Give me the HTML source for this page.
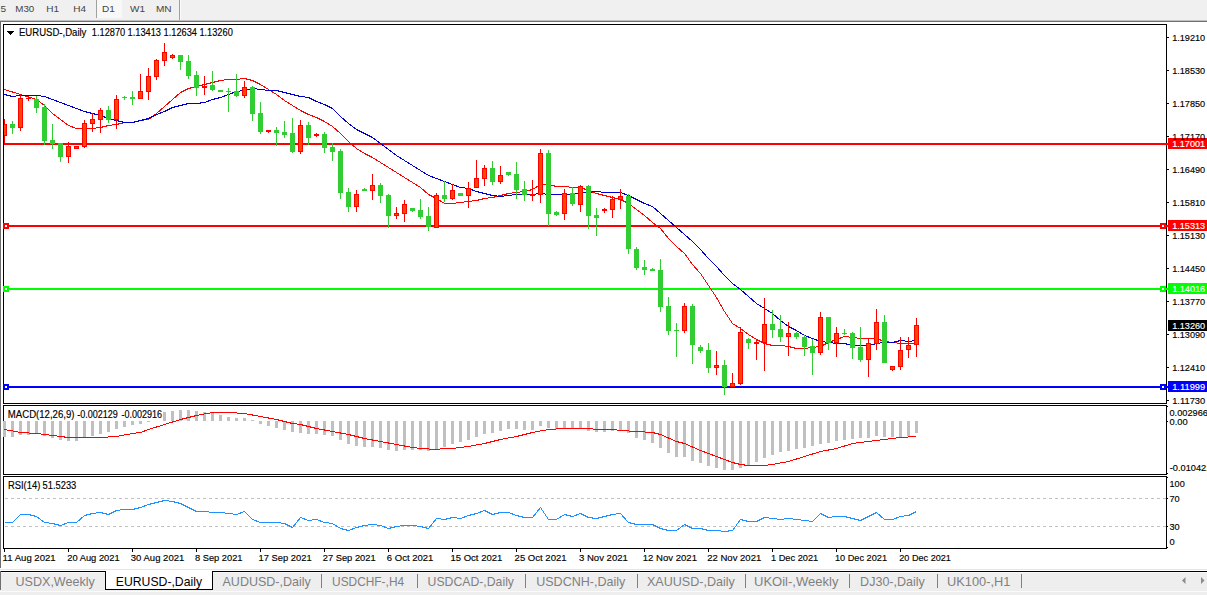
<!DOCTYPE html>
<html lang="en"><head><meta charset="utf-8"><title>EURUSD-,Daily</title>
<style>
html,body{margin:0;padding:0;background:#fff;}
body{width:1207px;height:595px;overflow:hidden;position:relative;font-family:"Liberation Sans",sans-serif;}
svg{position:absolute;left:0;top:0;display:block;}
text{font-family:"Liberation Sans",sans-serif;}
.ax{font-size:9.7px;fill:#000;stroke:#000;stroke-width:0.15px;}
.axw{font-size:9.7px;fill:#fff;stroke:#fff;stroke-width:0.15px;}
.tb{font-size:9.6px;fill:#444;}
.tab{font-size:12.7px;fill:#808080;}
.taba{font-size:12.7px;fill:#000;}
.ttl{font-size:10px;fill:#000;stroke:#000;stroke-width:0.15px;}
.dt{font-size:9.8px;fill:#000;stroke:#000;stroke-width:0.15px;}
</style></head><body>
<svg width="1207" height="595" viewBox="0 0 1207 595">
<g shape-rendering="crispEdges">
<rect x="0" y="0" width="1207" height="20" fill="#f0f0f0"/>
<rect x="0" y="20" width="1207" height="1" fill="#c0c0c0"/>
<rect x="0" y="21" width="1207" height="1" fill="#707070"/>
<rect x="97" y="0" width="25" height="18" fill="#f8f8f8"/>
<rect x="96" y="0" width="1" height="18" fill="#a0a0a0"/>
<rect x="179" y="0" width="1" height="20" fill="#a0a0a0"/>
<rect x="180" y="0" width="1" height="20" fill="#fafafa"/>
<rect x="0" y="22" width="1" height="546" fill="#6e6e6e"/>
<rect x="0" y="569" width="1207" height="1" fill="#e6e6e6"/>
<rect x="0" y="571" width="1207" height="1" fill="#000"/>
<rect x="0" y="572" width="1207" height="1" fill="#f8f8f8"/>
<rect x="0" y="573" width="1207" height="18" fill="#eeeeee"/>
<rect x="0" y="591" width="1207" height="1" fill="#fafafa"/>
<rect x="0" y="592" width="1207" height="3" fill="#eeeeee"/>
<rect x="105" y="571" width="108" height="19" fill="#000"/>
<rect x="106" y="570" width="106" height="19" fill="#fff"/>
<rect x="0" y="571" width="1" height="19" fill="#6e6e6e"/>
<rect x="321" y="574" width="1" height="14" fill="#808080"/>
<rect x="417" y="574" width="1" height="14" fill="#808080"/>
<rect x="525" y="574" width="1" height="14" fill="#808080"/>
<rect x="637" y="574" width="1" height="14" fill="#808080"/>
<rect x="745" y="574" width="1" height="14" fill="#808080"/>
<rect x="849" y="574" width="1" height="14" fill="#808080"/>
<rect x="937" y="574" width="1" height="14" fill="#808080"/>
<rect x="1021" y="574" width="1" height="14" fill="#808080"/>
<rect x="3" y="24" width="1164" height="1" fill="#000"/>
<rect x="3" y="403" width="1164" height="1" fill="#000"/>
<rect x="3" y="24" width="1" height="380" fill="#000"/>
<rect x="1166" y="24" width="1" height="380" fill="#000"/>
<rect x="3" y="405" width="1164" height="1" fill="#000"/>
<rect x="3" y="474" width="1164" height="1" fill="#000"/>
<rect x="3" y="405" width="1" height="70" fill="#000"/>
<rect x="1166" y="405" width="1" height="70" fill="#000"/>
<rect x="3" y="476" width="1164" height="1" fill="#000"/>
<rect x="3" y="548" width="1164" height="1" fill="#000"/>
<rect x="3" y="476" width="1" height="73" fill="#000"/>
<rect x="1166" y="476" width="1" height="73" fill="#000"/>
<rect x="1167" y="37" width="2" height="1" fill="#000"/>
<rect x="1167" y="70" width="2" height="1" fill="#000"/>
<rect x="1167" y="103" width="2" height="1" fill="#000"/>
<rect x="1167" y="136" width="2" height="1" fill="#000"/>
<rect x="1167" y="169" width="2" height="1" fill="#000"/>
<rect x="1167" y="202" width="2" height="1" fill="#000"/>
<rect x="1167" y="235" width="2" height="1" fill="#000"/>
<rect x="1167" y="268" width="2" height="1" fill="#000"/>
<rect x="1167" y="301" width="2" height="1" fill="#000"/>
<rect x="1167" y="334" width="2" height="1" fill="#000"/>
<rect x="1167" y="367" width="2" height="1" fill="#000"/>
<rect x="1167" y="400" width="2" height="1" fill="#000"/>
<rect x="1167" y="406" width="1" height="1" fill="#000"/>
<rect x="1167" y="421" width="1" height="1" fill="#000"/>
<rect x="1167" y="473" width="1" height="1" fill="#000"/>
<rect x="1167" y="477" width="1" height="1" fill="#000"/>
<rect x="1167" y="498" width="1" height="1" fill="#000"/>
<rect x="1167" y="526" width="1" height="1" fill="#000"/>
<rect x="1167" y="547" width="1" height="1" fill="#000"/>
<rect x="4" y="549" width="1" height="3" fill="#000"/>
<rect x="68" y="549" width="1" height="3" fill="#000"/>
<rect x="132" y="549" width="1" height="3" fill="#000"/>
<rect x="196" y="549" width="1" height="3" fill="#000"/>
<rect x="260" y="549" width="1" height="3" fill="#000"/>
<rect x="324" y="549" width="1" height="3" fill="#000"/>
<rect x="388" y="549" width="1" height="3" fill="#000"/>
<rect x="452" y="549" width="1" height="3" fill="#000"/>
<rect x="516" y="549" width="1" height="3" fill="#000"/>
<rect x="580" y="549" width="1" height="3" fill="#000"/>
<rect x="644" y="549" width="1" height="3" fill="#000"/>
<rect x="708" y="549" width="1" height="3" fill="#000"/>
<rect x="772" y="549" width="1" height="3" fill="#000"/>
<rect x="836" y="549" width="1" height="3" fill="#000"/>
<rect x="900" y="549" width="1" height="3" fill="#000"/>
<path d="M5 498h3v1h-3zM11 498h3v1h-3zM17 498h3v1h-3zM23 498h3v1h-3zM29 498h3v1h-3zM35 498h3v1h-3zM41 498h3v1h-3zM47 498h3v1h-3zM53 498h3v1h-3zM59 498h3v1h-3zM65 498h3v1h-3zM71 498h3v1h-3zM77 498h3v1h-3zM83 498h3v1h-3zM89 498h3v1h-3zM95 498h3v1h-3zM101 498h3v1h-3zM107 498h3v1h-3zM113 498h3v1h-3zM119 498h3v1h-3zM125 498h3v1h-3zM131 498h3v1h-3zM137 498h3v1h-3zM143 498h3v1h-3zM149 498h3v1h-3zM155 498h3v1h-3zM161 498h3v1h-3zM167 498h3v1h-3zM173 498h3v1h-3zM179 498h3v1h-3zM185 498h3v1h-3zM191 498h3v1h-3zM197 498h3v1h-3zM203 498h3v1h-3zM209 498h3v1h-3zM215 498h3v1h-3zM221 498h3v1h-3zM227 498h3v1h-3zM233 498h3v1h-3zM239 498h3v1h-3zM245 498h3v1h-3zM251 498h3v1h-3zM257 498h3v1h-3zM263 498h3v1h-3zM269 498h3v1h-3zM275 498h3v1h-3zM281 498h3v1h-3zM287 498h3v1h-3zM293 498h3v1h-3zM299 498h3v1h-3zM305 498h3v1h-3zM311 498h3v1h-3zM317 498h3v1h-3zM323 498h3v1h-3zM329 498h3v1h-3zM335 498h3v1h-3zM341 498h3v1h-3zM347 498h3v1h-3zM353 498h3v1h-3zM359 498h3v1h-3zM365 498h3v1h-3zM371 498h3v1h-3zM377 498h3v1h-3zM383 498h3v1h-3zM389 498h3v1h-3zM395 498h3v1h-3zM401 498h3v1h-3zM407 498h3v1h-3zM413 498h3v1h-3zM419 498h3v1h-3zM425 498h3v1h-3zM431 498h3v1h-3zM437 498h3v1h-3zM443 498h3v1h-3zM449 498h3v1h-3zM455 498h3v1h-3zM461 498h3v1h-3zM467 498h3v1h-3zM473 498h3v1h-3zM479 498h3v1h-3zM485 498h3v1h-3zM491 498h3v1h-3zM497 498h3v1h-3zM503 498h3v1h-3zM509 498h3v1h-3zM515 498h3v1h-3zM521 498h3v1h-3zM527 498h3v1h-3zM533 498h3v1h-3zM539 498h3v1h-3zM545 498h3v1h-3zM551 498h3v1h-3zM557 498h3v1h-3zM563 498h3v1h-3zM569 498h3v1h-3zM575 498h3v1h-3zM581 498h3v1h-3zM587 498h3v1h-3zM593 498h3v1h-3zM599 498h3v1h-3zM605 498h3v1h-3zM611 498h3v1h-3zM617 498h3v1h-3zM623 498h3v1h-3zM629 498h3v1h-3zM635 498h3v1h-3zM641 498h3v1h-3zM647 498h3v1h-3zM653 498h3v1h-3zM659 498h3v1h-3zM665 498h3v1h-3zM671 498h3v1h-3zM677 498h3v1h-3zM683 498h3v1h-3zM689 498h3v1h-3zM695 498h3v1h-3zM701 498h3v1h-3zM707 498h3v1h-3zM713 498h3v1h-3zM719 498h3v1h-3zM725 498h3v1h-3zM731 498h3v1h-3zM737 498h3v1h-3zM743 498h3v1h-3zM749 498h3v1h-3zM755 498h3v1h-3zM761 498h3v1h-3zM767 498h3v1h-3zM773 498h3v1h-3zM779 498h3v1h-3zM785 498h3v1h-3zM791 498h3v1h-3zM797 498h3v1h-3zM803 498h3v1h-3zM809 498h3v1h-3zM815 498h3v1h-3zM821 498h3v1h-3zM827 498h3v1h-3zM833 498h3v1h-3zM839 498h3v1h-3zM845 498h3v1h-3zM851 498h3v1h-3zM857 498h3v1h-3zM863 498h3v1h-3zM869 498h3v1h-3zM875 498h3v1h-3zM881 498h3v1h-3zM887 498h3v1h-3zM893 498h3v1h-3zM899 498h3v1h-3zM905 498h3v1h-3zM911 498h3v1h-3zM917 498h3v1h-3zM923 498h3v1h-3zM929 498h3v1h-3zM935 498h3v1h-3zM941 498h3v1h-3zM947 498h3v1h-3zM953 498h3v1h-3zM959 498h3v1h-3zM965 498h3v1h-3zM971 498h3v1h-3zM977 498h3v1h-3zM983 498h3v1h-3zM989 498h3v1h-3zM995 498h3v1h-3zM1001 498h3v1h-3zM1007 498h3v1h-3zM1013 498h3v1h-3zM1019 498h3v1h-3zM1025 498h3v1h-3zM1031 498h3v1h-3zM1037 498h3v1h-3zM1043 498h3v1h-3zM1049 498h3v1h-3zM1055 498h3v1h-3zM1061 498h3v1h-3zM1067 498h3v1h-3zM1073 498h3v1h-3zM1079 498h3v1h-3zM1085 498h3v1h-3zM1091 498h3v1h-3zM1097 498h3v1h-3zM1103 498h3v1h-3zM1109 498h3v1h-3zM1115 498h3v1h-3zM1121 498h3v1h-3zM1127 498h3v1h-3zM1133 498h3v1h-3zM1139 498h3v1h-3zM1145 498h3v1h-3zM1151 498h3v1h-3zM1157 498h3v1h-3zM1163 498h3v1h-3z" fill="#c0c0c0"/>
<path d="M5 526h3v1h-3zM11 526h3v1h-3zM17 526h3v1h-3zM23 526h3v1h-3zM29 526h3v1h-3zM35 526h3v1h-3zM41 526h3v1h-3zM47 526h3v1h-3zM53 526h3v1h-3zM59 526h3v1h-3zM65 526h3v1h-3zM71 526h3v1h-3zM77 526h3v1h-3zM83 526h3v1h-3zM89 526h3v1h-3zM95 526h3v1h-3zM101 526h3v1h-3zM107 526h3v1h-3zM113 526h3v1h-3zM119 526h3v1h-3zM125 526h3v1h-3zM131 526h3v1h-3zM137 526h3v1h-3zM143 526h3v1h-3zM149 526h3v1h-3zM155 526h3v1h-3zM161 526h3v1h-3zM167 526h3v1h-3zM173 526h3v1h-3zM179 526h3v1h-3zM185 526h3v1h-3zM191 526h3v1h-3zM197 526h3v1h-3zM203 526h3v1h-3zM209 526h3v1h-3zM215 526h3v1h-3zM221 526h3v1h-3zM227 526h3v1h-3zM233 526h3v1h-3zM239 526h3v1h-3zM245 526h3v1h-3zM251 526h3v1h-3zM257 526h3v1h-3zM263 526h3v1h-3zM269 526h3v1h-3zM275 526h3v1h-3zM281 526h3v1h-3zM287 526h3v1h-3zM293 526h3v1h-3zM299 526h3v1h-3zM305 526h3v1h-3zM311 526h3v1h-3zM317 526h3v1h-3zM323 526h3v1h-3zM329 526h3v1h-3zM335 526h3v1h-3zM341 526h3v1h-3zM347 526h3v1h-3zM353 526h3v1h-3zM359 526h3v1h-3zM365 526h3v1h-3zM371 526h3v1h-3zM377 526h3v1h-3zM383 526h3v1h-3zM389 526h3v1h-3zM395 526h3v1h-3zM401 526h3v1h-3zM407 526h3v1h-3zM413 526h3v1h-3zM419 526h3v1h-3zM425 526h3v1h-3zM431 526h3v1h-3zM437 526h3v1h-3zM443 526h3v1h-3zM449 526h3v1h-3zM455 526h3v1h-3zM461 526h3v1h-3zM467 526h3v1h-3zM473 526h3v1h-3zM479 526h3v1h-3zM485 526h3v1h-3zM491 526h3v1h-3zM497 526h3v1h-3zM503 526h3v1h-3zM509 526h3v1h-3zM515 526h3v1h-3zM521 526h3v1h-3zM527 526h3v1h-3zM533 526h3v1h-3zM539 526h3v1h-3zM545 526h3v1h-3zM551 526h3v1h-3zM557 526h3v1h-3zM563 526h3v1h-3zM569 526h3v1h-3zM575 526h3v1h-3zM581 526h3v1h-3zM587 526h3v1h-3zM593 526h3v1h-3zM599 526h3v1h-3zM605 526h3v1h-3zM611 526h3v1h-3zM617 526h3v1h-3zM623 526h3v1h-3zM629 526h3v1h-3zM635 526h3v1h-3zM641 526h3v1h-3zM647 526h3v1h-3zM653 526h3v1h-3zM659 526h3v1h-3zM665 526h3v1h-3zM671 526h3v1h-3zM677 526h3v1h-3zM683 526h3v1h-3zM689 526h3v1h-3zM695 526h3v1h-3zM701 526h3v1h-3zM707 526h3v1h-3zM713 526h3v1h-3zM719 526h3v1h-3zM725 526h3v1h-3zM731 526h3v1h-3zM737 526h3v1h-3zM743 526h3v1h-3zM749 526h3v1h-3zM755 526h3v1h-3zM761 526h3v1h-3zM767 526h3v1h-3zM773 526h3v1h-3zM779 526h3v1h-3zM785 526h3v1h-3zM791 526h3v1h-3zM797 526h3v1h-3zM803 526h3v1h-3zM809 526h3v1h-3zM815 526h3v1h-3zM821 526h3v1h-3zM827 526h3v1h-3zM833 526h3v1h-3zM839 526h3v1h-3zM845 526h3v1h-3zM851 526h3v1h-3zM857 526h3v1h-3zM863 526h3v1h-3zM869 526h3v1h-3zM875 526h3v1h-3zM881 526h3v1h-3zM887 526h3v1h-3zM893 526h3v1h-3zM899 526h3v1h-3zM905 526h3v1h-3zM911 526h3v1h-3zM917 526h3v1h-3zM923 526h3v1h-3zM929 526h3v1h-3zM935 526h3v1h-3zM941 526h3v1h-3zM947 526h3v1h-3zM953 526h3v1h-3zM959 526h3v1h-3zM965 526h3v1h-3zM971 526h3v1h-3zM977 526h3v1h-3zM983 526h3v1h-3zM989 526h3v1h-3zM995 526h3v1h-3zM1001 526h3v1h-3zM1007 526h3v1h-3zM1013 526h3v1h-3zM1019 526h3v1h-3zM1025 526h3v1h-3zM1031 526h3v1h-3zM1037 526h3v1h-3zM1043 526h3v1h-3zM1049 526h3v1h-3zM1055 526h3v1h-3zM1061 526h3v1h-3zM1067 526h3v1h-3zM1073 526h3v1h-3zM1079 526h3v1h-3zM1085 526h3v1h-3zM1091 526h3v1h-3zM1097 526h3v1h-3zM1103 526h3v1h-3zM1109 526h3v1h-3zM1115 526h3v1h-3zM1121 526h3v1h-3zM1127 526h3v1h-3zM1133 526h3v1h-3zM1139 526h3v1h-3zM1145 526h3v1h-3zM1151 526h3v1h-3zM1157 526h3v1h-3zM1163 526h3v1h-3z" fill="#c0c0c0"/>
<clipPath id="c1"><rect x="4" y="25" width="1164" height="378"/></clipPath>
<g clip-path="url(#c1)">
<rect x="4" y="143" width="1164" height="2" fill="#ff0000"/>
<rect x="4" y="225" width="1164" height="2" fill="#ff0000"/>
<rect x="4" y="288" width="1164" height="2" fill="#00ff00"/>
<rect x="4" y="386" width="1164" height="2" fill="#0000ff"/>
<polyline points="4.5,89.5 20.5,94.5 36.5,99.5 44.5,105.5 52.5,113.5 60.5,119.5 68.5,125.5 76.5,128.5 84.5,128.5 92.5,128.5 100.5,127.5 108.5,125.5 116.5,124.5 124.5,122.5 132.5,122.5 140.5,120.5 148.5,119.5 156.5,113.5 164.5,106.5 172.5,99.5 180.5,92.5 188.5,88.5 196.5,86.5 204.5,84.5 212.5,82.5 220.5,80.5 228.5,79.5 236.5,79.5 244.5,78.5 252.5,80.5 260.5,84.5 268.5,89.5 276.5,94.5 284.5,100.5 292.5,105.5 300.5,110.5 308.5,114.5 316.5,117.5 324.5,121.5 332.5,126.5 340.5,133.5 348.5,141.5 356.5,148.5 364.5,153.5 372.5,157.5 380.5,162.5 388.5,167.5 396.5,172.5 404.5,177.5 412.5,182.5 420.5,187.5 428.5,194.5 436.5,198.5 444.5,203.5 452.5,203.5 460.5,202.5 468.5,201.5 476.5,200.5 484.5,198.5 492.5,197.5 500.5,195.5 508.5,193.5 516.5,192.5 524.5,191.5 532.5,189.5 540.5,184.5 548.5,184.5 556.5,186.5 564.5,186.5 572.5,187.5 580.5,187.5 588.5,190.5 596.5,193.5 604.5,195.5 612.5,197.5 620.5,199.5 628.5,203.5 636.5,209.5 644.5,215.5 652.5,222.5 660.5,228.5 668.5,238.5 676.5,246.5 684.5,253.5 692.5,264.5 700.5,273.5 708.5,285.5 716.5,297.5 724.5,311.5 732.5,323.5 740.5,328.5 748.5,334.5 756.5,339.5 764.5,343.5 772.5,345.5 780.5,345.5 788.5,346.5 796.5,348.5 804.5,348.5 812.5,347.5 820.5,346.5 828.5,342.5 836.5,339.5 844.5,336.5 852.5,337.5 860.5,338.5 868.5,338.5 876.5,338.5 884.5,341.5 892.5,342.5 900.5,343.5 908.5,343.5 916.5,343.5" fill="none" stroke="#ff0000" stroke-width="1"/>
<polyline points="4.5,94.5 12.5,96.5 20.5,95.5 28.5,95.5 36.5,95.5 44.5,96.5 52.5,99.5 60.5,102.5 68.5,105.5 76.5,108.5 84.5,111.5 92.5,113.5 100.5,115.5 108.5,118.5 116.5,120.5 124.5,122.5 132.5,122.5 140.5,120.5 148.5,118.5 156.5,114.5 164.5,111.5 172.5,107.5 180.5,105.5 188.5,103.5 196.5,103.5 204.5,102.5 212.5,99.5 220.5,97.5 228.5,94.5 236.5,91.5 244.5,90.5 252.5,88.5 260.5,89.5 268.5,90.5 276.5,90.5 284.5,92.5 292.5,94.5 300.5,96.5 308.5,97.5 316.5,101.5 324.5,104.5 332.5,108.5 340.5,116.5 348.5,123.5 356.5,129.5 364.5,133.5 372.5,137.5 380.5,143.5 388.5,149.5 396.5,155.5 404.5,160.5 412.5,165.5 420.5,170.5 428.5,175.5 436.5,178.5 444.5,181.5 452.5,184.5 460.5,187.5 468.5,188.5 476.5,191.5 484.5,193.5 492.5,195.5 500.5,196.5 508.5,195.5 516.5,194.5 524.5,194.5 532.5,194.5 540.5,193.5 548.5,194.5 556.5,194.5 564.5,194.5 572.5,194.5 580.5,192.5 588.5,192.5 596.5,191.5 604.5,192.5 612.5,192.5 620.5,192.5 628.5,195.5 636.5,199.5 644.5,203.5 652.5,206.5 660.5,213.5 668.5,220.5 676.5,227.5 684.5,234.5 692.5,241.5 700.5,249.5 708.5,258.5 716.5,266.5 724.5,275.5 732.5,283.5 740.5,289.5 748.5,296.5 756.5,303.5 764.5,308.5 772.5,313.5 780.5,320.5 788.5,326.5 796.5,330.5 804.5,335.5 812.5,338.5 820.5,341.5 828.5,342.5 836.5,343.5 844.5,343.5 852.5,345.5 860.5,345.5 868.5,345.5 876.5,343.5 884.5,342.5 892.5,342.5 900.5,340.5 908.5,341.5 916.5,340.5" fill="none" stroke="#0000cd" stroke-width="1"/>
<rect x="4" y="119" width="1" height="24" fill="#ff0000"/>
<rect x="2" y="124" width="5" height="12" fill="#ff0000"/>
<rect x="3" y="125" width="3" height="10" fill="#ff4500"/>
<rect x="12" y="121" width="1" height="13" fill="#32cd32"/>
<rect x="10" y="124" width="5" height="4" fill="#32cd32"/>
<rect x="20" y="94" width="1" height="37" fill="#ff0000"/>
<rect x="18" y="98" width="5" height="30" fill="#ff0000"/>
<rect x="19" y="99" width="3" height="28" fill="#ff4500"/>
<rect x="28" y="97" width="1" height="4" fill="#ff0000"/>
<rect x="26" y="98" width="5" height="1" fill="#ff0000"/>
<rect x="36" y="96" width="1" height="17" fill="#32cd32"/>
<rect x="34" y="99" width="5" height="9" fill="#32cd32"/>
<rect x="44" y="104" width="1" height="41" fill="#32cd32"/>
<rect x="42" y="107" width="5" height="34" fill="#32cd32"/>
<rect x="52" y="124" width="1" height="25" fill="#32cd32"/>
<rect x="50" y="140" width="5" height="4" fill="#32cd32"/>
<rect x="60" y="143" width="1" height="19" fill="#32cd32"/>
<rect x="58" y="143" width="5" height="14" fill="#32cd32"/>
<rect x="68" y="142" width="1" height="21" fill="#ff0000"/>
<rect x="66" y="146" width="5" height="11" fill="#ff0000"/>
<rect x="67" y="147" width="3" height="9" fill="#ff4500"/>
<rect x="76" y="146" width="1" height="3" fill="#ff0000"/>
<rect x="74" y="146" width="5" height="3" fill="#ff0000"/>
<rect x="75" y="147" width="3" height="1" fill="#ff4500"/>
<rect x="84" y="120" width="1" height="28" fill="#ff0000"/>
<rect x="82" y="123" width="5" height="24" fill="#ff0000"/>
<rect x="83" y="124" width="3" height="22" fill="#ff4500"/>
<rect x="92" y="113" width="1" height="19" fill="#ff0000"/>
<rect x="90" y="119" width="5" height="5" fill="#ff0000"/>
<rect x="91" y="120" width="3" height="3" fill="#ff4500"/>
<rect x="100" y="108" width="1" height="25" fill="#ff0000"/>
<rect x="98" y="110" width="5" height="10" fill="#ff0000"/>
<rect x="99" y="111" width="3" height="8" fill="#ff4500"/>
<rect x="108" y="106" width="1" height="17" fill="#32cd32"/>
<rect x="106" y="110" width="5" height="10" fill="#32cd32"/>
<rect x="116" y="95" width="1" height="34" fill="#ff0000"/>
<rect x="114" y="99" width="5" height="21" fill="#ff0000"/>
<rect x="115" y="100" width="3" height="19" fill="#ff4500"/>
<rect x="124" y="96" width="1" height="4" fill="#32cd32"/>
<rect x="122" y="97" width="5" height="1" fill="#32cd32"/>
<rect x="132" y="91" width="1" height="14" fill="#32cd32"/>
<rect x="130" y="97" width="5" height="2" fill="#32cd32"/>
<rect x="140" y="74" width="1" height="25" fill="#ff0000"/>
<rect x="138" y="91" width="5" height="8" fill="#ff0000"/>
<rect x="139" y="92" width="3" height="6" fill="#ff4500"/>
<rect x="148" y="68" width="1" height="32" fill="#ff0000"/>
<rect x="146" y="76" width="5" height="16" fill="#ff0000"/>
<rect x="147" y="77" width="3" height="14" fill="#ff4500"/>
<rect x="156" y="59" width="1" height="21" fill="#ff0000"/>
<rect x="154" y="60" width="5" height="17" fill="#ff0000"/>
<rect x="155" y="61" width="3" height="15" fill="#ff4500"/>
<rect x="164" y="43" width="1" height="23" fill="#ff0000"/>
<rect x="162" y="52" width="5" height="9" fill="#ff0000"/>
<rect x="163" y="53" width="3" height="7" fill="#ff4500"/>
<rect x="172" y="54" width="1" height="5" fill="#ff0000"/>
<rect x="170" y="55" width="5" height="3" fill="#ff0000"/>
<rect x="171" y="56" width="3" height="1" fill="#ff4500"/>
<rect x="180" y="55" width="1" height="15" fill="#32cd32"/>
<rect x="178" y="55" width="5" height="7" fill="#32cd32"/>
<rect x="188" y="55" width="1" height="24" fill="#32cd32"/>
<rect x="186" y="61" width="5" height="15" fill="#32cd32"/>
<rect x="196" y="71" width="1" height="25" fill="#32cd32"/>
<rect x="194" y="75" width="5" height="13" fill="#32cd32"/>
<rect x="204" y="76" width="1" height="19" fill="#ff0000"/>
<rect x="202" y="86" width="5" height="2" fill="#ff0000"/>
<rect x="212" y="71" width="1" height="20" fill="#32cd32"/>
<rect x="210" y="85" width="5" height="5" fill="#32cd32"/>
<rect x="220" y="90" width="1" height="2" fill="#32cd32"/>
<rect x="218" y="90" width="5" height="2" fill="#32cd32"/>
<rect x="228" y="88" width="1" height="24" fill="#32cd32"/>
<rect x="226" y="91" width="5" height="1" fill="#32cd32"/>
<rect x="236" y="74" width="1" height="23" fill="#32cd32"/>
<rect x="234" y="91" width="5" height="5" fill="#32cd32"/>
<rect x="244" y="81" width="1" height="17" fill="#ff0000"/>
<rect x="242" y="87" width="5" height="9" fill="#ff0000"/>
<rect x="243" y="88" width="3" height="7" fill="#ff4500"/>
<rect x="252" y="86" width="1" height="35" fill="#32cd32"/>
<rect x="250" y="87" width="5" height="27" fill="#32cd32"/>
<rect x="260" y="102" width="1" height="32" fill="#32cd32"/>
<rect x="258" y="113" width="5" height="19" fill="#32cd32"/>
<rect x="268" y="130" width="1" height="3" fill="#ff0000"/>
<rect x="266" y="130" width="5" height="2" fill="#ff0000"/>
<rect x="276" y="127" width="1" height="19" fill="#32cd32"/>
<rect x="274" y="130" width="5" height="3" fill="#32cd32"/>
<rect x="284" y="121" width="1" height="17" fill="#32cd32"/>
<rect x="282" y="132" width="5" height="3" fill="#32cd32"/>
<rect x="292" y="118" width="1" height="35" fill="#32cd32"/>
<rect x="290" y="133" width="5" height="19" fill="#32cd32"/>
<rect x="300" y="120" width="1" height="34" fill="#ff0000"/>
<rect x="298" y="125" width="5" height="27" fill="#ff0000"/>
<rect x="299" y="126" width="3" height="25" fill="#ff4500"/>
<rect x="308" y="122" width="1" height="23" fill="#32cd32"/>
<rect x="306" y="125" width="5" height="13" fill="#32cd32"/>
<rect x="316" y="133" width="1" height="4" fill="#ff0000"/>
<rect x="314" y="134" width="5" height="2" fill="#ff0000"/>
<rect x="324" y="132" width="1" height="21" fill="#32cd32"/>
<rect x="322" y="134" width="5" height="14" fill="#32cd32"/>
<rect x="332" y="143" width="1" height="18" fill="#32cd32"/>
<rect x="330" y="147" width="5" height="5" fill="#32cd32"/>
<rect x="340" y="149" width="1" height="50" fill="#32cd32"/>
<rect x="338" y="151" width="5" height="42" fill="#32cd32"/>
<rect x="348" y="188" width="1" height="24" fill="#32cd32"/>
<rect x="346" y="192" width="5" height="15" fill="#32cd32"/>
<rect x="356" y="190" width="1" height="22" fill="#ff0000"/>
<rect x="354" y="194" width="5" height="13" fill="#ff0000"/>
<rect x="355" y="195" width="3" height="11" fill="#ff4500"/>
<rect x="364" y="188" width="1" height="3" fill="#32cd32"/>
<rect x="362" y="189" width="5" height="2" fill="#32cd32"/>
<rect x="372" y="174" width="1" height="26" fill="#ff0000"/>
<rect x="370" y="185" width="5" height="6" fill="#ff0000"/>
<rect x="371" y="186" width="3" height="4" fill="#ff4500"/>
<rect x="380" y="183" width="1" height="20" fill="#32cd32"/>
<rect x="378" y="185" width="5" height="11" fill="#32cd32"/>
<rect x="388" y="194" width="1" height="34" fill="#32cd32"/>
<rect x="386" y="195" width="5" height="21" fill="#32cd32"/>
<rect x="396" y="207" width="1" height="12" fill="#ff0000"/>
<rect x="394" y="213" width="5" height="3" fill="#ff0000"/>
<rect x="395" y="214" width="3" height="1" fill="#ff4500"/>
<rect x="404" y="200" width="1" height="22" fill="#ff0000"/>
<rect x="402" y="204" width="5" height="10" fill="#ff0000"/>
<rect x="403" y="205" width="3" height="8" fill="#ff4500"/>
<rect x="412" y="208" width="1" height="4" fill="#32cd32"/>
<rect x="410" y="208" width="5" height="3" fill="#32cd32"/>
<rect x="420" y="199" width="1" height="20" fill="#32cd32"/>
<rect x="418" y="210" width="5" height="7" fill="#32cd32"/>
<rect x="428" y="207" width="1" height="24" fill="#32cd32"/>
<rect x="426" y="216" width="5" height="11" fill="#32cd32"/>
<rect x="436" y="193" width="1" height="35" fill="#ff0000"/>
<rect x="434" y="195" width="5" height="33" fill="#ff0000"/>
<rect x="435" y="196" width="3" height="31" fill="#ff4500"/>
<rect x="444" y="181" width="1" height="21" fill="#32cd32"/>
<rect x="442" y="195" width="5" height="4" fill="#32cd32"/>
<rect x="452" y="184" width="1" height="16" fill="#ff0000"/>
<rect x="450" y="190" width="5" height="9" fill="#ff0000"/>
<rect x="451" y="191" width="3" height="7" fill="#ff4500"/>
<rect x="460" y="193" width="1" height="3" fill="#32cd32"/>
<rect x="458" y="193" width="5" height="3" fill="#32cd32"/>
<rect x="468" y="182" width="1" height="26" fill="#ff0000"/>
<rect x="466" y="188" width="5" height="8" fill="#ff0000"/>
<rect x="467" y="189" width="3" height="6" fill="#ff4500"/>
<rect x="476" y="160" width="1" height="28" fill="#ff0000"/>
<rect x="474" y="178" width="5" height="10" fill="#ff0000"/>
<rect x="475" y="179" width="3" height="8" fill="#ff4500"/>
<rect x="484" y="165" width="1" height="21" fill="#ff0000"/>
<rect x="482" y="168" width="5" height="11" fill="#ff0000"/>
<rect x="483" y="169" width="3" height="9" fill="#ff4500"/>
<rect x="492" y="161" width="1" height="24" fill="#32cd32"/>
<rect x="490" y="168" width="5" height="14" fill="#32cd32"/>
<rect x="500" y="166" width="1" height="18" fill="#ff0000"/>
<rect x="498" y="175" width="5" height="7" fill="#ff0000"/>
<rect x="499" y="176" width="3" height="5" fill="#ff4500"/>
<rect x="508" y="172" width="1" height="4" fill="#32cd32"/>
<rect x="506" y="172" width="5" height="3" fill="#32cd32"/>
<rect x="516" y="162" width="1" height="37" fill="#32cd32"/>
<rect x="514" y="174" width="5" height="16" fill="#32cd32"/>
<rect x="524" y="181" width="1" height="20" fill="#32cd32"/>
<rect x="522" y="189" width="5" height="6" fill="#32cd32"/>
<rect x="532" y="180" width="1" height="21" fill="#ff0000"/>
<rect x="530" y="194" width="5" height="2" fill="#ff0000"/>
<rect x="540" y="149" width="1" height="54" fill="#ff0000"/>
<rect x="538" y="153" width="5" height="42" fill="#ff0000"/>
<rect x="539" y="154" width="3" height="40" fill="#ff4500"/>
<rect x="548" y="150" width="1" height="76" fill="#32cd32"/>
<rect x="546" y="153" width="5" height="61" fill="#32cd32"/>
<rect x="556" y="211" width="1" height="5" fill="#32cd32"/>
<rect x="554" y="212" width="5" height="3" fill="#32cd32"/>
<rect x="564" y="189" width="1" height="31" fill="#ff0000"/>
<rect x="562" y="193" width="5" height="21" fill="#ff0000"/>
<rect x="563" y="194" width="3" height="19" fill="#ff4500"/>
<rect x="572" y="187" width="1" height="19" fill="#32cd32"/>
<rect x="570" y="193" width="5" height="11" fill="#32cd32"/>
<rect x="580" y="185" width="1" height="27" fill="#ff0000"/>
<rect x="578" y="186" width="5" height="19" fill="#ff0000"/>
<rect x="579" y="187" width="3" height="17" fill="#ff4500"/>
<rect x="588" y="185" width="1" height="44" fill="#32cd32"/>
<rect x="586" y="186" width="5" height="30" fill="#32cd32"/>
<rect x="596" y="208" width="1" height="28" fill="#32cd32"/>
<rect x="594" y="215" width="5" height="3" fill="#32cd32"/>
<rect x="604" y="208" width="1" height="5" fill="#ff0000"/>
<rect x="602" y="209" width="5" height="2" fill="#ff0000"/>
<rect x="612" y="196" width="1" height="22" fill="#ff0000"/>
<rect x="610" y="199" width="5" height="11" fill="#ff0000"/>
<rect x="611" y="200" width="3" height="9" fill="#ff4500"/>
<rect x="620" y="189" width="1" height="20" fill="#ff0000"/>
<rect x="618" y="196" width="5" height="4" fill="#ff0000"/>
<rect x="619" y="197" width="3" height="2" fill="#ff4500"/>
<rect x="628" y="194" width="1" height="60" fill="#32cd32"/>
<rect x="626" y="196" width="5" height="53" fill="#32cd32"/>
<rect x="636" y="247" width="1" height="23" fill="#32cd32"/>
<rect x="634" y="249" width="5" height="19" fill="#32cd32"/>
<rect x="644" y="260" width="1" height="15" fill="#32cd32"/>
<rect x="642" y="267" width="5" height="3" fill="#32cd32"/>
<rect x="652" y="268" width="1" height="3" fill="#32cd32"/>
<rect x="650" y="269" width="5" height="2" fill="#32cd32"/>
<rect x="660" y="259" width="1" height="53" fill="#32cd32"/>
<rect x="658" y="270" width="5" height="37" fill="#32cd32"/>
<rect x="668" y="297" width="1" height="38" fill="#32cd32"/>
<rect x="666" y="306" width="5" height="25" fill="#32cd32"/>
<rect x="676" y="323" width="1" height="34" fill="#32cd32"/>
<rect x="674" y="330" width="5" height="1" fill="#32cd32"/>
<rect x="684" y="303" width="1" height="30" fill="#ff0000"/>
<rect x="682" y="306" width="5" height="25" fill="#ff0000"/>
<rect x="683" y="307" width="3" height="23" fill="#ff4500"/>
<rect x="692" y="304" width="1" height="60" fill="#32cd32"/>
<rect x="690" y="306" width="5" height="39" fill="#32cd32"/>
<rect x="700" y="345" width="1" height="8" fill="#32cd32"/>
<rect x="698" y="347" width="5" height="4" fill="#32cd32"/>
<rect x="708" y="343" width="1" height="30" fill="#32cd32"/>
<rect x="706" y="350" width="5" height="18" fill="#32cd32"/>
<rect x="716" y="351" width="1" height="24" fill="#ff0000"/>
<rect x="714" y="365" width="5" height="3" fill="#ff0000"/>
<rect x="715" y="366" width="3" height="1" fill="#ff4500"/>
<rect x="724" y="360" width="1" height="35" fill="#32cd32"/>
<rect x="722" y="365" width="5" height="22" fill="#32cd32"/>
<rect x="732" y="373" width="1" height="14" fill="#ff0000"/>
<rect x="730" y="383" width="5" height="4" fill="#ff0000"/>
<rect x="731" y="384" width="3" height="2" fill="#ff4500"/>
<rect x="740" y="327" width="1" height="58" fill="#ff0000"/>
<rect x="738" y="332" width="5" height="52" fill="#ff0000"/>
<rect x="739" y="333" width="3" height="50" fill="#ff4500"/>
<rect x="748" y="338" width="1" height="11" fill="#32cd32"/>
<rect x="746" y="339" width="5" height="4" fill="#32cd32"/>
<rect x="756" y="339" width="1" height="21" fill="#ff0000"/>
<rect x="754" y="342" width="5" height="2" fill="#ff0000"/>
<rect x="764" y="298" width="1" height="73" fill="#ff0000"/>
<rect x="762" y="324" width="5" height="19" fill="#ff0000"/>
<rect x="763" y="325" width="3" height="17" fill="#ff4500"/>
<rect x="772" y="310" width="1" height="28" fill="#32cd32"/>
<rect x="770" y="324" width="5" height="6" fill="#32cd32"/>
<rect x="780" y="315" width="1" height="27" fill="#32cd32"/>
<rect x="778" y="329" width="5" height="8" fill="#32cd32"/>
<rect x="788" y="322" width="1" height="34" fill="#ff0000"/>
<rect x="786" y="333" width="5" height="4" fill="#ff0000"/>
<rect x="787" y="334" width="3" height="2" fill="#ff4500"/>
<rect x="796" y="332" width="1" height="7" fill="#32cd32"/>
<rect x="794" y="333" width="5" height="4" fill="#32cd32"/>
<rect x="804" y="335" width="1" height="21" fill="#32cd32"/>
<rect x="802" y="337" width="5" height="10" fill="#32cd32"/>
<rect x="812" y="339" width="1" height="36" fill="#32cd32"/>
<rect x="810" y="346" width="5" height="7" fill="#32cd32"/>
<rect x="820" y="312" width="1" height="43" fill="#ff0000"/>
<rect x="818" y="317" width="5" height="36" fill="#ff0000"/>
<rect x="819" y="318" width="3" height="34" fill="#ff4500"/>
<rect x="828" y="317" width="1" height="33" fill="#32cd32"/>
<rect x="826" y="317" width="5" height="26" fill="#32cd32"/>
<rect x="836" y="327" width="1" height="30" fill="#ff0000"/>
<rect x="834" y="333" width="5" height="10" fill="#ff0000"/>
<rect x="835" y="334" width="3" height="8" fill="#ff4500"/>
<rect x="844" y="329" width="1" height="6" fill="#32cd32"/>
<rect x="842" y="333" width="5" height="1" fill="#32cd32"/>
<rect x="852" y="332" width="1" height="27" fill="#32cd32"/>
<rect x="850" y="333" width="5" height="15" fill="#32cd32"/>
<rect x="860" y="327" width="1" height="35" fill="#32cd32"/>
<rect x="858" y="347" width="5" height="13" fill="#32cd32"/>
<rect x="868" y="338" width="1" height="39" fill="#ff0000"/>
<rect x="866" y="343" width="5" height="17" fill="#ff0000"/>
<rect x="867" y="344" width="3" height="15" fill="#ff4500"/>
<rect x="876" y="309" width="1" height="41" fill="#ff0000"/>
<rect x="874" y="322" width="5" height="22" fill="#ff0000"/>
<rect x="875" y="323" width="3" height="20" fill="#ff4500"/>
<rect x="884" y="315" width="1" height="48" fill="#32cd32"/>
<rect x="882" y="322" width="5" height="41" fill="#32cd32"/>
<rect x="892" y="366" width="1" height="5" fill="#ff0000"/>
<rect x="890" y="366" width="5" height="4" fill="#ff0000"/>
<rect x="891" y="367" width="3" height="2" fill="#ff4500"/>
<rect x="900" y="337" width="1" height="33" fill="#ff0000"/>
<rect x="898" y="350" width="5" height="17" fill="#ff0000"/>
<rect x="899" y="351" width="3" height="15" fill="#ff4500"/>
<rect x="908" y="337" width="1" height="21" fill="#ff0000"/>
<rect x="906" y="345" width="5" height="5" fill="#ff0000"/>
<rect x="907" y="346" width="3" height="3" fill="#ff4500"/>
<rect x="916" y="318" width="1" height="39" fill="#ff0000"/>
<rect x="914" y="325" width="5" height="20" fill="#ff0000"/>
<rect x="915" y="326" width="3" height="18" fill="#ff4500"/>
</g>
<rect x="1160" y="223" width="6" height="6" fill="#ff0000"/>
<rect x="1162" y="225" width="2" height="2" fill="#fff"/>
<rect x="3" y="223" width="6" height="6" fill="#ff0000"/>
<rect x="5" y="225" width="2" height="2" fill="#fff"/>
<rect x="1160" y="286" width="6" height="6" fill="#00ff00"/>
<rect x="1162" y="288" width="2" height="2" fill="#fff"/>
<rect x="3" y="286" width="6" height="6" fill="#00ff00"/>
<rect x="5" y="288" width="2" height="2" fill="#fff"/>
<rect x="1160" y="384" width="6" height="6" fill="#0000ff"/>
<rect x="1162" y="386" width="2" height="2" fill="#fff"/>
<rect x="3" y="384" width="6" height="6" fill="#0000ff"/>
<rect x="5" y="386" width="2" height="2" fill="#fff"/>
<rect x="1168" y="138" width="39" height="11" fill="#ff0000"/>
<rect x="1168" y="220" width="39" height="11" fill="#ff0000"/>
<rect x="1168" y="283" width="39" height="11" fill="#00ff00"/>
<rect x="1168" y="320" width="39" height="11" fill="#000"/>
<rect x="1168" y="381" width="39" height="11" fill="#0000ff"/>
<rect x="3" y="421" width="3" height="16" fill="#c0c0c0"/>
<rect x="11" y="421" width="3" height="16" fill="#c0c0c0"/>
<rect x="19" y="421" width="3" height="14" fill="#c0c0c0"/>
<rect x="27" y="421" width="3" height="14" fill="#c0c0c0"/>
<rect x="35" y="421" width="3" height="13" fill="#c0c0c0"/>
<rect x="43" y="421" width="3" height="15" fill="#c0c0c0"/>
<rect x="51" y="421" width="3" height="17" fill="#c0c0c0"/>
<rect x="59" y="421" width="3" height="19" fill="#c0c0c0"/>
<rect x="67" y="421" width="3" height="20" fill="#c0c0c0"/>
<rect x="75" y="421" width="3" height="20" fill="#c0c0c0"/>
<rect x="83" y="421" width="3" height="17" fill="#c0c0c0"/>
<rect x="91" y="421" width="3" height="15" fill="#c0c0c0"/>
<rect x="99" y="421" width="3" height="13" fill="#c0c0c0"/>
<rect x="107" y="421" width="3" height="11" fill="#c0c0c0"/>
<rect x="115" y="421" width="3" height="8" fill="#c0c0c0"/>
<rect x="123" y="421" width="3" height="6" fill="#c0c0c0"/>
<rect x="131" y="421" width="3" height="4" fill="#c0c0c0"/>
<rect x="139" y="421" width="3" height="3" fill="#c0c0c0"/>
<rect x="147" y="421" width="3" height="1" fill="#c0c0c0"/>
<rect x="155" y="415" width="3" height="6" fill="#c0c0c0"/>
<rect x="163" y="412" width="3" height="9" fill="#c0c0c0"/>
<rect x="171" y="411" width="3" height="10" fill="#c0c0c0"/>
<rect x="179" y="410" width="3" height="11" fill="#c0c0c0"/>
<rect x="187" y="410" width="3" height="11" fill="#c0c0c0"/>
<rect x="195" y="411" width="3" height="10" fill="#c0c0c0"/>
<rect x="203" y="412" width="3" height="9" fill="#c0c0c0"/>
<rect x="211" y="413" width="3" height="8" fill="#c0c0c0"/>
<rect x="219" y="415" width="3" height="6" fill="#c0c0c0"/>
<rect x="227" y="417" width="3" height="4" fill="#c0c0c0"/>
<rect x="235" y="418" width="3" height="3" fill="#c0c0c0"/>
<rect x="243" y="418" width="3" height="3" fill="#c0c0c0"/>
<rect x="251" y="420" width="3" height="1" fill="#c0c0c0"/>
<rect x="259" y="421" width="3" height="3" fill="#c0c0c0"/>
<rect x="267" y="421" width="3" height="5" fill="#c0c0c0"/>
<rect x="275" y="421" width="3" height="7" fill="#c0c0c0"/>
<rect x="283" y="421" width="3" height="9" fill="#c0c0c0"/>
<rect x="291" y="421" width="3" height="11" fill="#c0c0c0"/>
<rect x="299" y="421" width="3" height="12" fill="#c0c0c0"/>
<rect x="307" y="421" width="3" height="13" fill="#c0c0c0"/>
<rect x="315" y="421" width="3" height="13" fill="#c0c0c0"/>
<rect x="323" y="421" width="3" height="14" fill="#c0c0c0"/>
<rect x="331" y="421" width="3" height="15" fill="#c0c0c0"/>
<rect x="339" y="421" width="3" height="19" fill="#c0c0c0"/>
<rect x="347" y="421" width="3" height="23" fill="#c0c0c0"/>
<rect x="355" y="421" width="3" height="25" fill="#c0c0c0"/>
<rect x="363" y="421" width="3" height="26" fill="#c0c0c0"/>
<rect x="371" y="421" width="3" height="26" fill="#c0c0c0"/>
<rect x="379" y="421" width="3" height="27" fill="#c0c0c0"/>
<rect x="387" y="421" width="3" height="29" fill="#c0c0c0"/>
<rect x="395" y="421" width="3" height="30" fill="#c0c0c0"/>
<rect x="403" y="421" width="3" height="29" fill="#c0c0c0"/>
<rect x="411" y="421" width="3" height="29" fill="#c0c0c0"/>
<rect x="419" y="421" width="3" height="29" fill="#c0c0c0"/>
<rect x="427" y="421" width="3" height="30" fill="#c0c0c0"/>
<rect x="435" y="421" width="3" height="28" fill="#c0c0c0"/>
<rect x="443" y="421" width="3" height="26" fill="#c0c0c0"/>
<rect x="451" y="421" width="3" height="23" fill="#c0c0c0"/>
<rect x="459" y="421" width="3" height="21" fill="#c0c0c0"/>
<rect x="467" y="421" width="3" height="19" fill="#c0c0c0"/>
<rect x="475" y="421" width="3" height="16" fill="#c0c0c0"/>
<rect x="483" y="421" width="3" height="13" fill="#c0c0c0"/>
<rect x="491" y="421" width="3" height="12" fill="#c0c0c0"/>
<rect x="499" y="421" width="3" height="10" fill="#c0c0c0"/>
<rect x="507" y="421" width="3" height="8" fill="#c0c0c0"/>
<rect x="515" y="421" width="3" height="8" fill="#c0c0c0"/>
<rect x="523" y="421" width="3" height="9" fill="#c0c0c0"/>
<rect x="531" y="421" width="3" height="9" fill="#c0c0c0"/>
<rect x="539" y="421" width="3" height="5" fill="#c0c0c0"/>
<rect x="547" y="421" width="3" height="7" fill="#c0c0c0"/>
<rect x="555" y="421" width="3" height="8" fill="#c0c0c0"/>
<rect x="563" y="421" width="3" height="8" fill="#c0c0c0"/>
<rect x="571" y="421" width="3" height="8" fill="#c0c0c0"/>
<rect x="579" y="421" width="3" height="7" fill="#c0c0c0"/>
<rect x="587" y="421" width="3" height="10" fill="#c0c0c0"/>
<rect x="595" y="421" width="3" height="11" fill="#c0c0c0"/>
<rect x="603" y="421" width="3" height="11" fill="#c0c0c0"/>
<rect x="611" y="421" width="3" height="10" fill="#c0c0c0"/>
<rect x="619" y="421" width="3" height="10" fill="#c0c0c0"/>
<rect x="627" y="421" width="3" height="12" fill="#c0c0c0"/>
<rect x="635" y="421" width="3" height="17" fill="#c0c0c0"/>
<rect x="643" y="421" width="3" height="19" fill="#c0c0c0"/>
<rect x="651" y="421" width="3" height="22" fill="#c0c0c0"/>
<rect x="659" y="421" width="3" height="27" fill="#c0c0c0"/>
<rect x="667" y="421" width="3" height="32" fill="#c0c0c0"/>
<rect x="675" y="421" width="3" height="36" fill="#c0c0c0"/>
<rect x="683" y="421" width="3" height="36" fill="#c0c0c0"/>
<rect x="691" y="421" width="3" height="40" fill="#c0c0c0"/>
<rect x="699" y="421" width="3" height="42" fill="#c0c0c0"/>
<rect x="707" y="421" width="3" height="45" fill="#c0c0c0"/>
<rect x="715" y="421" width="3" height="47" fill="#c0c0c0"/>
<rect x="723" y="421" width="3" height="49" fill="#c0c0c0"/>
<rect x="731" y="421" width="3" height="49" fill="#c0c0c0"/>
<rect x="739" y="421" width="3" height="47" fill="#c0c0c0"/>
<rect x="747" y="421" width="3" height="44" fill="#c0c0c0"/>
<rect x="755" y="421" width="3" height="41" fill="#c0c0c0"/>
<rect x="763" y="421" width="3" height="37" fill="#c0c0c0"/>
<rect x="771" y="421" width="3" height="34" fill="#c0c0c0"/>
<rect x="779" y="421" width="3" height="31" fill="#c0c0c0"/>
<rect x="787" y="421" width="3" height="30" fill="#c0c0c0"/>
<rect x="795" y="421" width="3" height="28" fill="#c0c0c0"/>
<rect x="803" y="421" width="3" height="27" fill="#c0c0c0"/>
<rect x="811" y="421" width="3" height="25" fill="#c0c0c0"/>
<rect x="819" y="421" width="3" height="23" fill="#c0c0c0"/>
<rect x="827" y="421" width="3" height="22" fill="#c0c0c0"/>
<rect x="835" y="421" width="3" height="20" fill="#c0c0c0"/>
<rect x="843" y="421" width="3" height="19" fill="#c0c0c0"/>
<rect x="851" y="421" width="3" height="18" fill="#c0c0c0"/>
<rect x="859" y="421" width="3" height="17" fill="#c0c0c0"/>
<rect x="867" y="421" width="3" height="17" fill="#c0c0c0"/>
<rect x="875" y="421" width="3" height="15" fill="#c0c0c0"/>
<rect x="883" y="421" width="3" height="16" fill="#c0c0c0"/>
<rect x="891" y="421" width="3" height="16" fill="#c0c0c0"/>
<rect x="899" y="421" width="3" height="16" fill="#c0c0c0"/>
<rect x="907" y="421" width="3" height="15" fill="#c0c0c0"/>
<rect x="915" y="421" width="3" height="12" fill="#c0c0c0"/>
<rect x="8" y="410" width="155" height="11" fill="#fff"/>
<polyline points="4.5,429.5 20.5,432.5 36.5,433.5 52.5,435.5 68.5,437.5 84.5,437.5 100.5,437.5 116.5,436.5 132.5,433.5 140.5,432.5 148.5,429.5 164.5,424.5 180.5,419.5 196.5,415.5 212.5,412.5 220.5,412.5 228.5,412.5 244.5,413.5 260.5,416.5 276.5,419.5 292.5,423.5 300.5,424.5 316.5,428.5 332.5,431.5 348.5,434.5 364.5,438.5 380.5,441.5 396.5,444.5 412.5,447.5 420.5,448.5 436.5,449.5 444.5,448.5 452.5,448.5 468.5,446.5 484.5,443.5 500.5,439.5 516.5,436.5 532.5,432.5 548.5,429.5 564.5,428.5 580.5,428.5 588.5,428.5 596.5,429.5 612.5,429.5 620.5,430.5 636.5,431.5 652.5,432.5 660.5,434.5 676.5,441.5 684.5,443.5 700.5,450.5 716.5,456.5 732.5,462.5 740.5,464.5 748.5,465.5 764.5,465.5 772.5,464.5 788.5,461.5 804.5,456.5 820.5,451.5 836.5,448.5 852.5,443.5 868.5,441.5 884.5,439.5 900.5,437.5 916.5,436.5" fill="none" stroke="#ff0000" stroke-width="1"/>
<polyline points="4.5,522.5 12.5,522.5 20.5,514.5 28.5,514.5 36.5,516.5 44.5,522.5 52.5,523.5 60.5,525.5 68.5,522.5 76.5,522.5 84.5,515.5 92.5,513.5 100.5,512.5 108.5,514.5 116.5,510.5 124.5,509.5 132.5,509.5 140.5,507.5 148.5,504.5 156.5,502.5 164.5,500.5 172.5,501.5 180.5,503.5 188.5,507.5 196.5,511.5 204.5,511.5 212.5,512.5 220.5,512.5 228.5,513.5 236.5,514.5 244.5,511.5 252.5,519.5 260.5,522.5 268.5,522.5 276.5,522.5 284.5,523.5 292.5,527.5 300.5,517.5 308.5,520.5 316.5,519.5 324.5,522.5 332.5,523.5 340.5,528.5 348.5,530.5 356.5,527.5 364.5,525.5 372.5,524.5 380.5,525.5 388.5,528.5 396.5,526.5 404.5,525.5 412.5,525.5 420.5,526.5 428.5,528.5 436.5,518.5 444.5,519.5 452.5,517.5 460.5,518.5 468.5,515.5 476.5,513.5 484.5,510.5 492.5,514.5 500.5,512.5 508.5,512.5 516.5,515.5 524.5,517.5 532.5,517.5 540.5,507.5 548.5,519.5 556.5,519.5 564.5,514.5 572.5,516.5 580.5,513.5 588.5,517.5 596.5,518.5 604.5,516.5 612.5,514.5 620.5,513.5 628.5,522.5 636.5,524.5 644.5,524.5 652.5,524.5 660.5,528.5 668.5,530.5 676.5,530.5 684.5,524.5 692.5,528.5 700.5,528.5 708.5,530.5 716.5,530.5 724.5,531.5 732.5,530.5 740.5,519.5 748.5,521.5 756.5,521.5 764.5,517.5 772.5,518.5 780.5,519.5 788.5,518.5 796.5,519.5 804.5,520.5 812.5,521.5 820.5,513.5 828.5,517.5 836.5,516.5 844.5,516.5 852.5,518.5 860.5,520.5 868.5,516.5 876.5,512.5 884.5,519.5 892.5,519.5 900.5,516.5 908.5,515.5 916.5,511.5" fill="none" stroke="#1e90ff" stroke-width="1"/>
<path d="M7 31h7v1h-7zM8 32h5v1h-5zM9 33h3v1h-3zM10 34h1v1h-1z" fill="#000"/>
<path d="M1185.5 577v7l-3.5-3.5z" fill="#8c8c8c" shape-rendering="auto"/>
<path d="M1201 577v7l3.5-3.5z" fill="#8c8c8c" shape-rendering="auto"/>
</g>
<g>
<text x="0.5" y="12" class="tb" textLength="5.6" lengthAdjust="spacingAndGlyphs" >5</text>
<text x="15.3" y="12" class="tb" textLength="19" lengthAdjust="spacingAndGlyphs" >M30</text>
<text x="46.2" y="12" class="tb" textLength="12.8" lengthAdjust="spacingAndGlyphs" >H1</text>
<text x="73.2" y="12" class="tb" textLength="12.8" lengthAdjust="spacingAndGlyphs" >H4</text>
<text x="102" y="12" class="tb" textLength="12.8" lengthAdjust="spacingAndGlyphs" >D1</text>
<text x="130" y="12" class="tb" textLength="15" lengthAdjust="spacingAndGlyphs" >W1</text>
<text x="156" y="12" class="tb" textLength="15.6" lengthAdjust="spacingAndGlyphs" >MN</text>
<text x="19" y="36" class="ttl" textLength="67.4" lengthAdjust="spacingAndGlyphs" >EURUSD-,Daily</text>
<text x="91.8" y="36" class="ttl" textLength="33.4" lengthAdjust="spacingAndGlyphs" >1.12870</text>
<text x="127.6" y="36" class="ttl" textLength="33.4" lengthAdjust="spacingAndGlyphs" >1.13413</text>
<text x="163.6" y="36" class="ttl" textLength="33.4" lengthAdjust="spacingAndGlyphs" >1.12634</text>
<text x="199.4" y="36" class="ttl" textLength="33.4" lengthAdjust="spacingAndGlyphs" >1.13260</text>
<text x="7.8" y="418" class="ttl" textLength="66.7" lengthAdjust="spacingAndGlyphs" >MACD(12,26,9)</text>
<text x="77.2" y="418" class="ttl" textLength="40.6" lengthAdjust="spacingAndGlyphs" >-0.002129</text>
<text x="121.4" y="418" class="ttl" textLength="40.6" lengthAdjust="spacingAndGlyphs" >-0.002916</text>
<text x="7.9" y="489" class="ttl" textLength="32.4" lengthAdjust="spacingAndGlyphs" >RSI(14)</text>
<text x="42.5" y="489" class="ttl" textLength="33.8" lengthAdjust="spacingAndGlyphs" >51.5233</text>
<text x="1172.2" y="41" class="ax" textLength="33" lengthAdjust="spacingAndGlyphs" >1.19210</text>
<text x="1172.2" y="74" class="ax" textLength="33" lengthAdjust="spacingAndGlyphs" >1.18530</text>
<text x="1172.2" y="107" class="ax" textLength="33" lengthAdjust="spacingAndGlyphs" >1.17850</text>
<text x="1172.2" y="140" class="ax" textLength="33" lengthAdjust="spacingAndGlyphs" >1.17170</text>
<text x="1172.2" y="173" class="ax" textLength="33" lengthAdjust="spacingAndGlyphs" >1.16490</text>
<text x="1172.2" y="206" class="ax" textLength="33" lengthAdjust="spacingAndGlyphs" >1.15810</text>
<text x="1172.2" y="239" class="ax" textLength="33" lengthAdjust="spacingAndGlyphs" >1.15130</text>
<text x="1172.2" y="272" class="ax" textLength="33" lengthAdjust="spacingAndGlyphs" >1.14450</text>
<text x="1172.2" y="305" class="ax" textLength="33" lengthAdjust="spacingAndGlyphs" >1.13770</text>
<text x="1172.2" y="338" class="ax" textLength="33" lengthAdjust="spacingAndGlyphs" >1.13090</text>
<text x="1172.2" y="371" class="ax" textLength="33" lengthAdjust="spacingAndGlyphs" >1.12410</text>
<text x="1172.2" y="404" class="ax" textLength="33" lengthAdjust="spacingAndGlyphs" >1.11730</text>
<text x="1172.2" y="147" class="axw" textLength="33" lengthAdjust="spacingAndGlyphs" >1.17001</text>
<text x="1172.2" y="229" class="axw" textLength="33" lengthAdjust="spacingAndGlyphs" >1.15313</text>
<text x="1172.2" y="292" class="axw" textLength="33" lengthAdjust="spacingAndGlyphs" >1.14016</text>
<text x="1172.2" y="329" class="axw" textLength="33" lengthAdjust="spacingAndGlyphs" >1.13260</text>
<text x="1172.2" y="390" class="axw" textLength="33" lengthAdjust="spacingAndGlyphs" >1.11999</text>
<text x="1169.5" y="416" class="ax" textLength="38.4" lengthAdjust="spacingAndGlyphs" >0.002966</text>
<text x="1169.5" y="425" class="ax" textLength="18.2" lengthAdjust="spacingAndGlyphs" >0.00</text>
<text x="1169.8" y="471" class="ax" textLength="41.6" lengthAdjust="spacingAndGlyphs" >-0.010421</text>
<text x="1169.5" y="487" class="ax" textLength="15.2" lengthAdjust="spacingAndGlyphs" >100</text>
<text x="1169.5" y="502" class="ax" textLength="10.2" lengthAdjust="spacingAndGlyphs" >70</text>
<text x="1169.5" y="530" class="ax" textLength="10.2" lengthAdjust="spacingAndGlyphs" >30</text>
<text x="1169.5" y="545" class="ax" textLength="5.2" lengthAdjust="spacingAndGlyphs" >0</text>
<text x="2.6" y="561" class="dt" textLength="53.1" lengthAdjust="spacingAndGlyphs" >11 Aug 2021</text>
<text x="67.2" y="561" class="dt" textLength="52.5" lengthAdjust="spacingAndGlyphs" >20 Aug 2021</text>
<text x="130.8" y="561" class="dt" textLength="53.5" lengthAdjust="spacingAndGlyphs" >30 Aug 2021</text>
<text x="195.0" y="561" class="dt" textLength="47.5" lengthAdjust="spacingAndGlyphs" >8 Sep 2021</text>
<text x="258.5" y="561" class="dt" textLength="53.1" lengthAdjust="spacingAndGlyphs" >17 Sep 2021</text>
<text x="322.7" y="561" class="dt" textLength="53.0" lengthAdjust="spacingAndGlyphs" >27 Sep 2021</text>
<text x="386.8" y="561" class="dt" textLength="46.6" lengthAdjust="spacingAndGlyphs" >6 Oct 2021</text>
<text x="450.4" y="561" class="dt" textLength="52.0" lengthAdjust="spacingAndGlyphs" >15 Oct 2021</text>
<text x="514.6" y="561" class="dt" textLength="52.0" lengthAdjust="spacingAndGlyphs" >25 Oct 2021</text>
<text x="578.9" y="561" class="dt" textLength="49.0" lengthAdjust="spacingAndGlyphs" >3 Nov 2021</text>
<text x="642.8" y="561" class="dt" textLength="54.2" lengthAdjust="spacingAndGlyphs" >12 Nov 2021</text>
<text x="707.2" y="561" class="dt" textLength="54.1" lengthAdjust="spacingAndGlyphs" >22 Nov 2021</text>
<text x="771.0" y="561" class="dt" textLength="47.2" lengthAdjust="spacingAndGlyphs" >1 Dec 2021</text>
<text x="834.9" y="561" class="dt" textLength="52.1" lengthAdjust="spacingAndGlyphs" >10 Dec 2021</text>
<text x="899.3" y="561" class="dt" textLength="51.6" lengthAdjust="spacingAndGlyphs" >20 Dec 2021</text>
<text x="15.5" y="586" class="tab" textLength="79.3" lengthAdjust="spacingAndGlyphs" >USDX,Weekly</text>
<text x="115.8" y="586" class="taba" textLength="86.2" lengthAdjust="spacingAndGlyphs" >EURUSD-,Daily</text>
<text x="222.5" y="586" class="tab" textLength="88.3" lengthAdjust="spacingAndGlyphs" >AUDUSD-,Daily</text>
<text x="332.1" y="586" class="tab" textLength="72.0" lengthAdjust="spacingAndGlyphs" >USDCHF-,H4</text>
<text x="427.6" y="586" class="tab" textLength="86.4" lengthAdjust="spacingAndGlyphs" >USDCAD-,Daily</text>
<text x="536.2" y="586" class="tab" textLength="89.2" lengthAdjust="spacingAndGlyphs" >USDCNH-,Daily</text>
<text x="646.9" y="586" class="tab" textLength="87.9" lengthAdjust="spacingAndGlyphs" >XAUUSD-,Daily</text>
<text x="754.0" y="586" class="tab" textLength="84.4" lengthAdjust="spacingAndGlyphs" >UKOil-,Weekly</text>
<text x="860.1" y="586" class="tab" textLength="64.8" lengthAdjust="spacingAndGlyphs" >DJ30-,Daily</text>
<text x="947.1" y="586" class="tab" textLength="63.3" lengthAdjust="spacingAndGlyphs" >UK100-,H1</text>
</g>
</svg></body></html>
